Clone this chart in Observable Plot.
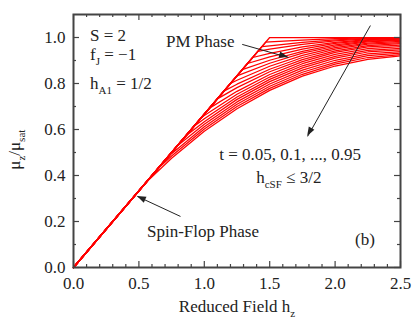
<!DOCTYPE html>
<html>
<head>
<meta charset="utf-8">
<script src="https://cdn.jsdelivr.net/npm/d3@7"></script>
<script src="https://cdn.jsdelivr.net/npm/@observablehq/plot@0.6"></script>
<style>
  html, body { margin: 0; padding: 0; background: #fff; }
</style>
</head>
<body>
<div id="chart"></div>
<script>
// Temperatures of the curves
const tValues = [0.05, 0.10, 0.15, 0.20, 0.25, 0.30, 0.35, 0.40, 0.45, 0.50,
                 0.55, 0.60, 0.65, 0.70, 0.75, 0.80, 0.85, 0.90, 0.95];
// Field where each curve leaves the spin-flop line, and its value there
const hTransition  = [1.50, 1.47, 1.44, 1.41, 1.37, 1.33, 1.29, 1.25, 1.20, 1.15,
                      1.10, 1.04, 0.98, 0.92, 0.86, 0.79, 0.72, 0.64, 0.55];
const muTransition = [1.000, 0.980, 0.960, 0.940, 0.913, 0.887, 0.860, 0.833, 0.800, 0.767,
                      0.733, 0.693, 0.653, 0.613, 0.573, 0.527, 0.480, 0.427, 0.367];
// Field grid of the PM-phase readings
const hGrid = [0.75, 1.00, 1.25, 1.50, 1.75, 2.00, 2.25, 2.50];
// mu_z/mu_sat read at hGrid (null: still on the spin-flop line)
const muCurves = [
  [null, null, null, null, 1.000, 1.000, 1.000, 1.000],
  [null, null, null, 0.981, 0.989, 0.995, 0.998, 0.999],
  [null, null, null, 0.964, 0.979, 0.990, 0.996, 0.998],
  [null, null, null, 0.949, 0.970, 0.985, 0.994, 0.997],
  [null, null, null, 0.931, 0.959, 0.979, 0.991, 0.995],
  [null, null, null, 0.916, 0.949, 0.974, 0.988, 0.993],
  [null, null, null, 0.901, 0.940, 0.968, 0.984, 0.990],
  [null, null, null, 0.888, 0.932, 0.962, 0.981, 0.987],
  [null, null, 0.814, 0.875, 0.922, 0.956, 0.976, 0.983],
  [null, null, 0.797, 0.862, 0.913, 0.949, 0.971, 0.978],
  [null, null, 0.782, 0.851, 0.904, 0.942, 0.965, 0.973],
  [null, null, 0.766, 0.839, 0.895, 0.935, 0.959, 0.967],
  [null, 0.661, 0.753, 0.828, 0.886, 0.927, 0.952, 0.960],
  [null, 0.647, 0.741, 0.818, 0.877, 0.918, 0.944, 0.953],
  [null, 0.634, 0.731, 0.808, 0.868, 0.910, 0.937, 0.946],
  [null, 0.623, 0.720, 0.798, 0.858, 0.901, 0.929, 0.939],
  [0.495, 0.612, 0.710, 0.788, 0.849, 0.892, 0.921, 0.932],
  [0.485, 0.602, 0.700, 0.779, 0.840, 0.884, 0.913, 0.926],
  [0.475, 0.592, 0.690, 0.770, 0.832, 0.876, 0.905, 0.920]
];

// Axis ticks
const xMajor = [0, 0.5, 1.0, 1.5, 2.0, 2.5];
const xMinor = [0.1, 0.2, 0.3, 0.4, 0.6, 0.7, 0.8, 0.9, 1.1, 1.2, 1.3, 1.4,
                1.6, 1.7, 1.8, 1.9, 2.1, 2.2, 2.3, 2.4];
const yMajor = [0, 0.2, 0.4, 0.6, 0.8, 1.0];
const yMinor = [0.1, 0.3, 0.5, 0.7, 0.9];

// Annotation arrows (tail -> head, in data units)
const arrows = [
  {x1: 1.29, y1: 0.970, x2: 1.644, y2: 0.913},
  {x1: 2.27, y1: 1.052, x2: 1.79,  y2: 0.570},
  {x1: 0.818, y1: 0.222, x2: 0.489, y2: 0.309}
];

// Build the line table
const rows = [];
tValues.forEach((t, i) => {
  rows.push({t, h: 0, mu: 0});
  rows.push({t, h: hTransition[i], mu: muTransition[i]});
  hGrid.forEach((h, j) => {
    const v = muCurves[i][j];
    if (v !== null) rows.push({t, h, mu: v});
  });
});

const W = 415, H = 329, mL = 73, mR = 15, mT = 14, mB = 62;
const pw = W - mL - mR, ph = H - mT - mB;
const axisColor = "#444";
const serif = "'Liberation Serif', 'Times New Roman', serif";
const fmt = d3.format(".1f");

const chart = Plot.plot({
  width: W, height: H,
  marginLeft: mL, marginRight: mR, marginTop: mT, marginBottom: mB,
  x: {domain: [0, 2.5]},
  y: {domain: [0, 1.1]},
  style: {fontFamily: serif, fontSize: "17px", background: "#fff", color: "#222"},
  marks: [
    Plot.line(rows, {x: "h", y: "mu", z: "t", stroke: "#ff0000", strokeWidth: 1.25}),
    // inward ticks on all four sides
    Plot.tickX(xMajor, {x: d => d, insetTop: ph - 6, stroke: axisColor, strokeWidth: 1.2}),
    Plot.tickX(xMajor, {x: d => d, insetBottom: ph - 6, stroke: axisColor, strokeWidth: 1.2}),
    Plot.tickX(xMinor, {x: d => d, insetTop: ph - 3, stroke: axisColor, strokeWidth: 1.2}),
    Plot.tickX(xMinor, {x: d => d, insetBottom: ph - 3, stroke: axisColor, strokeWidth: 1.2}),
    Plot.tickY(yMajor, {y: d => d, insetRight: pw - 6, stroke: axisColor, strokeWidth: 1.2}),
    Plot.tickY(yMajor, {y: d => d, insetLeft: pw - 6, stroke: axisColor, strokeWidth: 1.2}),
    Plot.tickY(yMinor, {y: d => d, insetRight: pw - 3, stroke: axisColor, strokeWidth: 1.2}),
    Plot.tickY(yMinor, {y: d => d, insetLeft: pw - 3, stroke: axisColor, strokeWidth: 1.2}),
    Plot.frame({stroke: axisColor, strokeWidth: 2}),
    Plot.axisX(xMajor, {tickSize: 0, tickPadding: 9, tickFormat: fmt, label: null, fontSize: 17, fontFamily: serif}),
    Plot.axisY(yMajor, {tickSize: 0, tickPadding: 8, tickFormat: fmt, label: null, fontSize: 17, fontFamily: serif}),
    Plot.link(arrows, {x1: "x1", y1: "y1", x2: "x2", y2: "y2", stroke: "#222", strokeWidth: 1})
  ]
});

document.getElementById("chart").appendChild(chart);

const sx = chart.scale("x"), sy = chart.scale("y");
const svg = d3.select(chart);

// Filled arrow heads at the arrows' tips
const heads = svg.append("g").attr("fill", "#222");
arrows.forEach(a => {
  const x1 = sx.apply(a.x1), y1 = sy.apply(a.y1), x2 = sx.apply(a.x2), y2 = sy.apply(a.y2);
  const ang = Math.atan2(y2 - y1, x2 - x1);
  const L = 9, hw = 3.2;
  const bx = x2 - L * Math.cos(ang), by = y2 - L * Math.sin(ang);
  const px = -Math.sin(ang) * hw, py = Math.cos(ang) * hw;
  heads.append("path").attr("d", `M${x2},${y2}L${bx + px},${by + py}L${bx - px},${by - py}Z`);
});

// Text annotations with subscripts, positioned through the plot's scales
const g = svg.append("g").attr("fill", "#222").attr("font-family", serif);
function addText(h, mu, parts, anchor = "start", rotate = false) {
  const x = sx.apply(h), y = sy.apply(mu);
  const txt = g.append("text").attr("text-anchor", anchor).attr("font-size", 17);
  if (rotate) txt.attr("transform", `translate(${x},${y}) rotate(-90)`);
  else txt.attr("x", x).attr("y", y);
  let shift = 0;
  parts.forEach(([s, sub]) => {
    const ts = txt.append("tspan").text(s);
    if (sub && shift === 0) { ts.attr("dy", 5).attr("font-size", 11); shift = 5; }
    else if (sub) { ts.attr("font-size", 11); }
    else if (shift) { ts.attr("dy", -shift); shift = 0; }
  });
}

addText(0.13, 0.983, [["S = 2", false]]);
addText(0.13, 0.900, [["f", false], ["J", true], [" = \u22121", false]]);
addText(0.13, 0.775, [["h", false], ["A1", true], [" = 1/2", false]]);
addText(0.711, 0.957, [["PM Phase", false]]);
addText(1.66, 0.465, [["t = 0.05, 0.1, ..., 0.95", false]], "middle");
addText(1.65, 0.365, [["h", false], ["cSF", true], [" \u2264 3/2", false]], "middle");
addText(0.566, 0.130, [["Spin-Flop Phase", false]]);
addText(2.156, 0.096, [["(b)", false]]);
addText(1.254, -0.196, [["Reduced Field h", false], ["z", true]], "middle");
addText(-0.405, 0.51, [["\u03bc", false], ["z", true], ["/\u03bc", false], ["sat", true]], "middle", true);
</script>
</body>
</html>
